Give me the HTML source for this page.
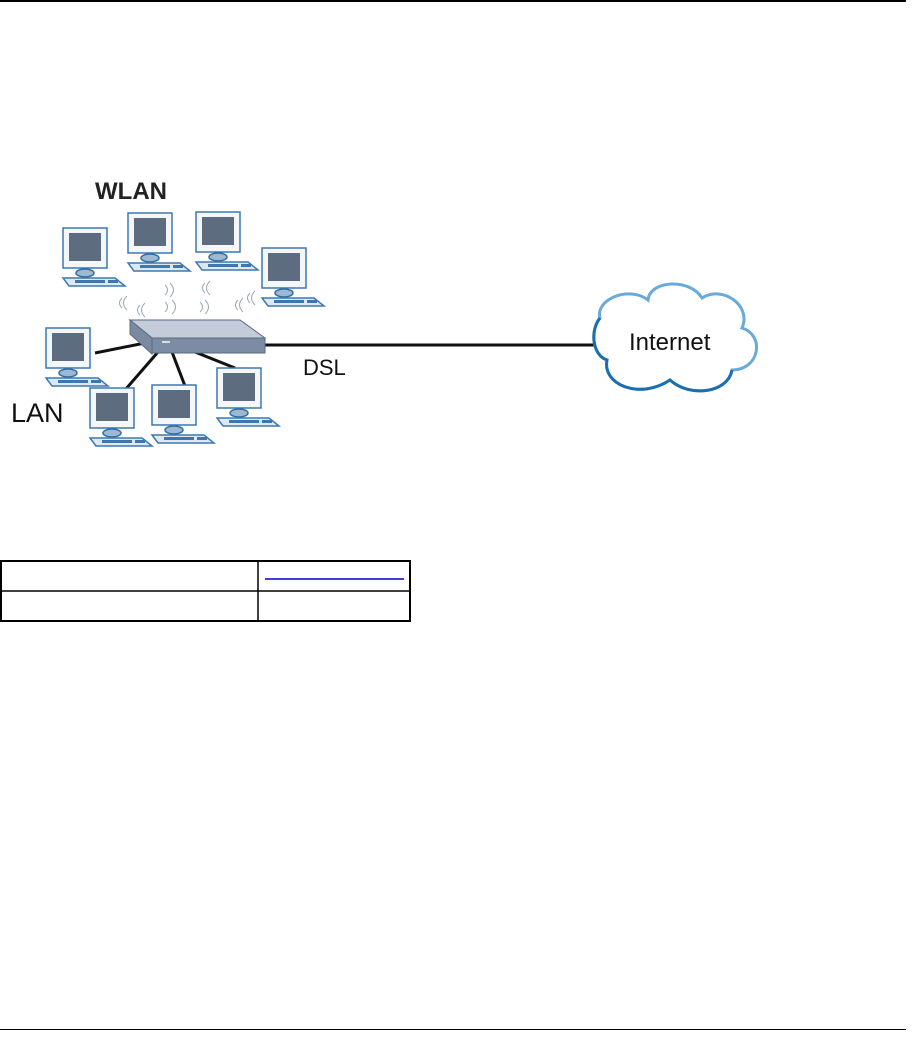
<!DOCTYPE html>
<html><head><style>
body{margin:0;width:912px;height:1061px;background:#fff;position:relative;overflow:hidden;font-family:"Liberation Sans",sans-serif}
.hr{position:absolute;left:0;width:906px;height:2px;background:#000}
</style></head><body>
<div class="hr" style="top:0"></div>
<div class="hr" style="top:1029px;height:1px"></div>
<svg width="912" height="460" style="position:absolute;left:0;top:0" xmlns="http://www.w3.org/2000/svg">
<defs>
<g id="pc">
<rect x="0" y="0" width="44" height="40" fill="#f4f6f8" stroke="#3b78b0" stroke-width="1.5"/>
<rect x="6" y="5" width="32" height="28" fill="#5e6c80"/>
<ellipse cx="22" cy="45" rx="9" ry="4" fill="#9fb8cf" stroke="#2e6ea8" stroke-width="1.5"/>
<polygon points="0,50 52,50 62,58 6,58" fill="#dfe8f0" stroke="#3b78b0" stroke-width="1.5"/>
<rect x="12" y="52" width="30" height="3" fill="#3b78b0"/>
<rect x="45" y="52" width="10" height="3" fill="#3b78b0"/>
</g>
</defs>
<text x="95" y="199" font-size="24" font-weight="bold" fill="#222">WLAN</text>
<text x="11" y="422" font-size="27" fill="#111">LAN</text>
<g stroke="#111" stroke-width="3">
<line x1="95" y1="353" x2="150" y2="342"/>
<line x1="125" y1="390" x2="158" y2="352"/>
<line x1="185" y1="386" x2="172" y2="352"/>
<line x1="235" y1="368" x2="195" y2="352"/>
<line x1="260" y1="345" x2="595" y2="345"/>
</g>
<use href="#pc" x="63" y="228"/>
<use href="#pc" x="128" y="213"/>
<use href="#pc" x="196" y="212"/>
<use href="#pc" x="262" y="248"/>
<use href="#pc" x="46" y="328"/>
<use href="#pc" x="90" y="388"/>
<use href="#pc" x="152" y="385"/>
<use href="#pc" x="217" y="368"/>
<polygon points="130,320 240,320 265,338 152,338" fill="#c3ccd8" stroke="#5a6a80"/>
<polygon points="130,320 152,338 152,354 130,334" fill="#7a8aa0" stroke="#5a6a80"/>
<rect x="152" y="338" width="113" height="15" fill="#7c8ca4" stroke="#5a6a80"/>
<rect x="162" y="341" width="8" height="2" fill="#ddd"/>
<g fill="none" stroke="#9aa8b8" stroke-width="1">
<path d="M122,298 q-5,5 0,10 M127,296 q-7,7 0,14"/>
<path d="M140,305 q-5,5 0,10 M145,303 q-7,7 0,14"/>
<path d="M165,285 q5,5 0,10 M170,283 q7,7 0,14"/>
<path d="M165,302 q5,5 0,10 M172,300 q7,7 0,14"/>
<path d="M205,283 q-5,5 0,10 M210,281 q-7,7 0,14"/>
<path d="M200,302 q5,5 0,10 M205,300 q7,7 0,14"/>
<path d="M238,300 q-5,5 0,10 M243,298 q-7,7 0,14"/>
<path d="M250,293 q-5,5 0,10 M255,291 q-7,7 0,14"/>
</g>
<text x="303" y="375" font-size="22" fill="#111">DSL</text>
<path d="M600,318 C590,330 592,355 607,360 C602,385 640,400 670,380 C690,398 728,393 732,370 C760,370 765,335 742,328 C752,305 722,285 702,298 C690,278 650,280 648,300 C628,285 595,300 600,318 Z" fill="#fff" stroke="#6aaad8" stroke-width="3"/>
<path d="M600,318 C590,330 592,355 607,360 C602,385 640,400 670,380 C690,398 728,393 732,370" fill="none" stroke="#1a6fb0" stroke-width="3"/>
<text x="629" y="350" font-size="24" fill="#111">Internet</text>
</svg>
<svg width="912" height="80" style="position:absolute;left:0;top:550px" xmlns="http://www.w3.org/2000/svg">
<rect x="1" y="11" width="409" height="60" fill="none" stroke="#000" stroke-width="2"/>
<line x1="1" y1="41" x2="410" y2="41" stroke="#000" stroke-width="1.5"/>
<line x1="258" y1="11" x2="258" y2="71" stroke="#000" stroke-width="1.5"/>
<line x1="265" y1="29" x2="404" y2="29" stroke="#0000cc" stroke-width="1.5"/>
</svg>
</body></html>
